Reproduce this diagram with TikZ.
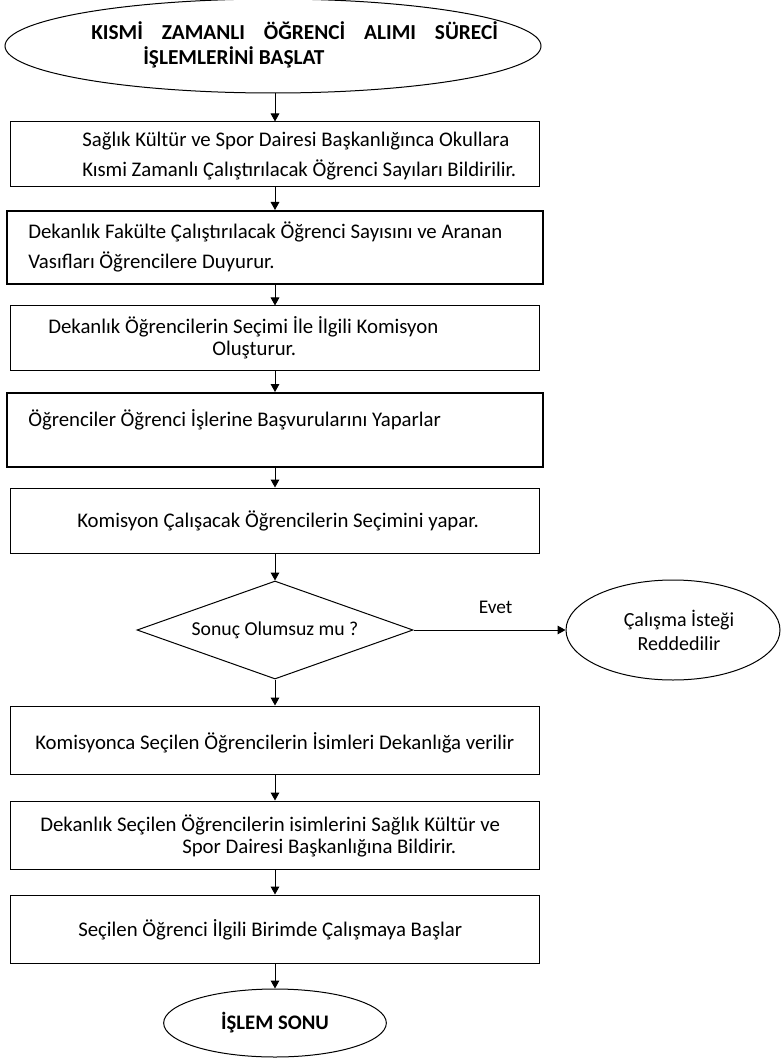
\documentclass[tikz,border=0pt]{standalone}
\usepackage{fontspec}
\setmainfont{Carlito}
\usetikzlibrary{shapes.geometric,arrows.meta}
\begin{document}
\begin{tikzpicture}[x=0.75bp,y=-0.75bp,
  every node/.style={font=\fontsize{15.6bp}{18bp}\selectfont, inner sep=0pt},
  box/.style={draw, line width=0.75bp, minimum width=396bp},
  tbox/.style={draw, line width=1.5bp, minimum width=402bp},
  oval/.style={draw, ellipse, line width=0.75bp},
  txt/.style={anchor=west, align=left},
  arr/.style={-{Triangle[length=6bp,width=6.5bp]}, line width=0.75bp}]
\useasboundingbox (0,0) rectangle (780,1060);

% start
\node[oval, minimum width=402bp, minimum height=70.5bp] (start) at (273,46) {};
\node[txt, font=\bfseries\fontsize{16bp}{19bp}\selectfont] (starttxt) at (91,45)
  {\makebox[305bp][s]{KISMİ\hfill ZAMANLI\hfill ÖĞRENCİ\hfill ALIMI\hfill SÜRECİ}\\
   \hspace*{39bp}İŞLEMLERİNİ BAŞLAT};

% boxes
\node[box, minimum height=48.75bp] (b1) at (275,154.5) {};
\node[txt, font=\fontsize{15.6bp}{22.5bp}\selectfont] (t1) at (82,156)
  {Sağlık Kültür ve Spor Dairesi Başkanlığınca Okullara\\
   Kısmi Zamanlı Çalıştırılacak Öğrenci Sayıları Bildirilir.};

\node[tbox, minimum height=54.75bp] (b2) at (275,247.5) {};
\node[txt, font=\fontsize{15.6bp}{22.5bp}\selectfont] (t2) at (28,247)
  {Dekanlık Fakülte Çalıştırılacak Öğrenci Sayısını ve Aranan\\
   Vasıfları Öğrencilere Duyurur.};

\node[box, minimum height=48bp] (b3) at (275,338) {};
\node[txt, font=\fontsize{15.6bp}{16.5bp}\selectfont] (t3) at (48,337.5)
  {Dekanlık Öğrencilerin Seçimi İle İlgili Komisyon\\
   \hspace*{123bp}Oluşturur.};

\node[tbox, minimum height=55.5bp] (b4) at (275,430) {};
\node[txt] (t4) at (28,420) {Öğrenciler Öğrenci İşlerine Başvurularını Yaparlar};

\node[box, minimum height=48.75bp] (b5) at (275,520.5) {};
\node[txt] (t5) at (77,521) {Komisyon Çalışacak Öğrencilerin Seçimini yapar.};

% decision
\node[draw, diamond, aspect=2.8, line width=0.75bp, minimum width=207bp, minimum height=73.5bp,
      font=\fontsize{14.8bp}{18bp}\selectfont] (d) at (275,630) {Sonuç Olumsuz mu ?};
\node[oval, minimum width=160.5bp, minimum height=75bp, align=center,
      font=\fontsize{15bp}{18bp}\selectfont] (rej) at (673,630)
  {\hspace*{9bp}Çalışma İsteği\\\hspace*{9bp}Reddedilir};

\node[box, minimum height=51bp] (b6) at (275,740) {};
\node[txt] (t6) at (35,743) {Komisyonca Seçilen Öğrencilerin İsimleri Dekanlığa verilir};

\node[box, minimum height=51bp] (b7) at (275,835) {};
\node[txt, font=\fontsize{15.6bp}{16.5bp}\selectfont] (t7) at (40,836)
  {Dekanlık Seçilen Öğrencilerin isimlerini Sağlık Kültür ve\\
   \hspace*{106.5bp}Spor Dairesi Başkanlığına Bildirir.};

\node[box, minimum height=51bp] (b8) at (275,929) {};
\node[txt] (t8) at (78,930) {Seçilen Öğrenci İlgili Birimde Çalışmaya Başlar};

\node[oval, minimum width=167bp, minimum height=51bp, font=\bfseries\fontsize{15.5bp}{17bp}\selectfont] (end) at (275,1023) {İŞLEM SONU};

% connectors
\draw[arr] (b1.north |- start.south) -- (b1.north);
\draw[arr] (b1.south) -- (b2.north);
\draw[arr] (b2.south) -- (b3.north);
\draw[arr] (b3.south) -- (b4.north);
\draw[arr] (b4.south) -- (b5.north);
\draw[arr] (b5.south) -- (d.north);
\draw[arr] (d.east) -- node[pos=0.54, above=12bp, font=\fontsize{14.5bp}{16bp}\selectfont] (evet) {Evet} (rej.west);
\draw[arr] (d.south) -- (b6.north);
\draw[arr] (b6.south) -- (b7.north);
\draw[arr] (b7.south) -- (b8.north);
\draw[arr] (b8.south) -- (end.north);
\end{tikzpicture}
\end{document}
